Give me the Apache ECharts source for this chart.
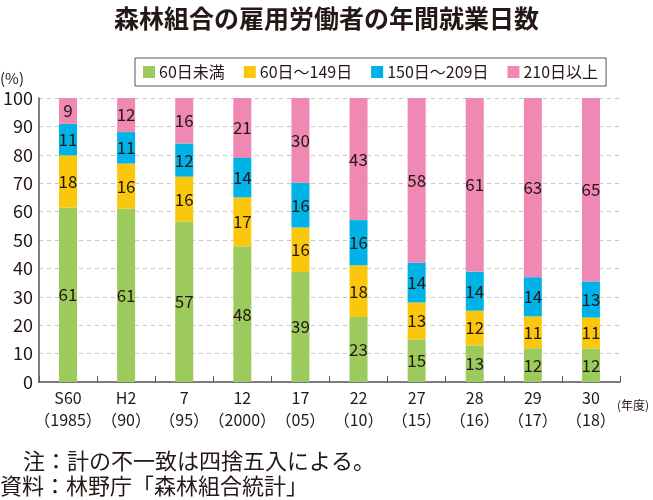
<!DOCTYPE html>
<html><head><meta charset="utf-8">
<script src="https://cdn.jsdelivr.net/npm/echarts@6/dist/echarts.min.js"></script>
<style>html,body{margin:0;padding:0;background:#fff}#c{width:653px;height:500px}</style>
</head><body><div id="c"></div>
<script>
const categories = ['S60\n（1985）','H2\n（90）','7\n（95）','12\n（2000）','17\n（05）','22\n（10）','27\n（15）','28\n（16）','29\n（17）','30\n（18）'];
const seriesNames = ['60日未満','60日～149日','150日～209日','210日以上'];
const under60 = [61.4, 61.0, 56.5, 47.8, 38.7, 22.9, 15.0, 12.9, 11.9, 11.8];
const d60to149 = [18.4, 15.9, 15.8, 17.2, 15.7, 18.2, 13.0, 12.2, 11.2, 10.9];
const d150to209 = [11.1, 11.1, 11.7, 13.9, 15.8, 15.9, 14.0, 13.8, 13.8, 12.7];
const over210 = [9.1, 12.0, 16.0, 21.1, 29.8, 43.0, 58.0, 61.1, 63.1, 64.6];
const colors = ['#9dca5c','#fbc70d','#00b3e7','#ef88b2'];
const FONT = '"Noto Sans CJK JP", sans-serif';
const INK = '#231815';

const chart = echarts.init(document.getElementById('c'));
const mk = (name, data, i) => ({
  name, type: 'bar', stack: 'a', data, barWidth: 18,
  itemStyle: { color: colors[i] },
  label: { show: true, position: 'inside', color: INK, fontSize: 17, fontFamily: FONT,
    formatter: p => Math.round(p.value) }
});
chart.setOption({
  animation: false,
  textStyle: { fontFamily: FONT },
  title: { text: '森林組合の雇用労働者の年間就業日数', left: 'center', top: 1,
    textStyle: { fontSize: 25, fontWeight: 'bold', color: INK, fontFamily: FONT } },
  legend: { top: 58, left: 135, itemGap: 19, itemWidth: 12, itemHeight: 12,
    icon: 'rect', borderColor: '#555', borderWidth: 1, padding: [6, 8, 6, 8],
    textStyle: { fontSize: 16, color: INK, fontFamily: FONT, padding: [0, 0, 0, -1] }, data: seriesNames },
  grid: { left: 33, right: 33, top: 98, bottom: 118 },
  xAxis: { type: 'category', data: categories,
    axisLine: { lineStyle: { color: '#555', width: 1.5 } },
    axisTick: { show: true, inside: true, length: 6, interval: 0, lineStyle: { color: '#555' } },
    axisLabel: { interval: 0, fontSize: 16, color: INK, lineHeight: 22, margin: 5, fontFamily: FONT } },
  yAxis: { type: 'value', min: 0, max: 100, interval: 10,
    axisLine: { show: true, lineStyle: { color: '#555', width: 1.5 } },
    axisTick: { show: false },
    axisLabel: { fontSize: 18, color: INK, margin: 6, fontFamily: FONT },
    splitLine: { lineStyle: { color: '#c8c8c8', type: [4, 4] } } },
  graphic: [
    { type: 'text', left: 0, top: 71, style: { text: '(%)', fontSize: 15, fill: INK, fontFamily: FONT } },
    { type: 'text', left: 617, top: 399, style: { text: '(年度)', fontSize: 12, fill: INK, fontFamily: FONT } },
    { type: 'text', left: 23, top: 450, style: { text: '注：計の不一致は四捨五入による。', fontSize: 22, fill: INK, fontFamily: FONT } },
    { type: 'text', left: 0, top: 475, style: { text: '資料：林野庁「森林組合統計」', fontSize: 22, fill: INK, fontFamily: FONT } }
  ],
  series: [mk(seriesNames[0], under60, 0), mk(seriesNames[1], d60to149, 1), mk(seriesNames[2], d150to209, 2), mk(seriesNames[3], over210, 3)]
});
</script></body></html>
